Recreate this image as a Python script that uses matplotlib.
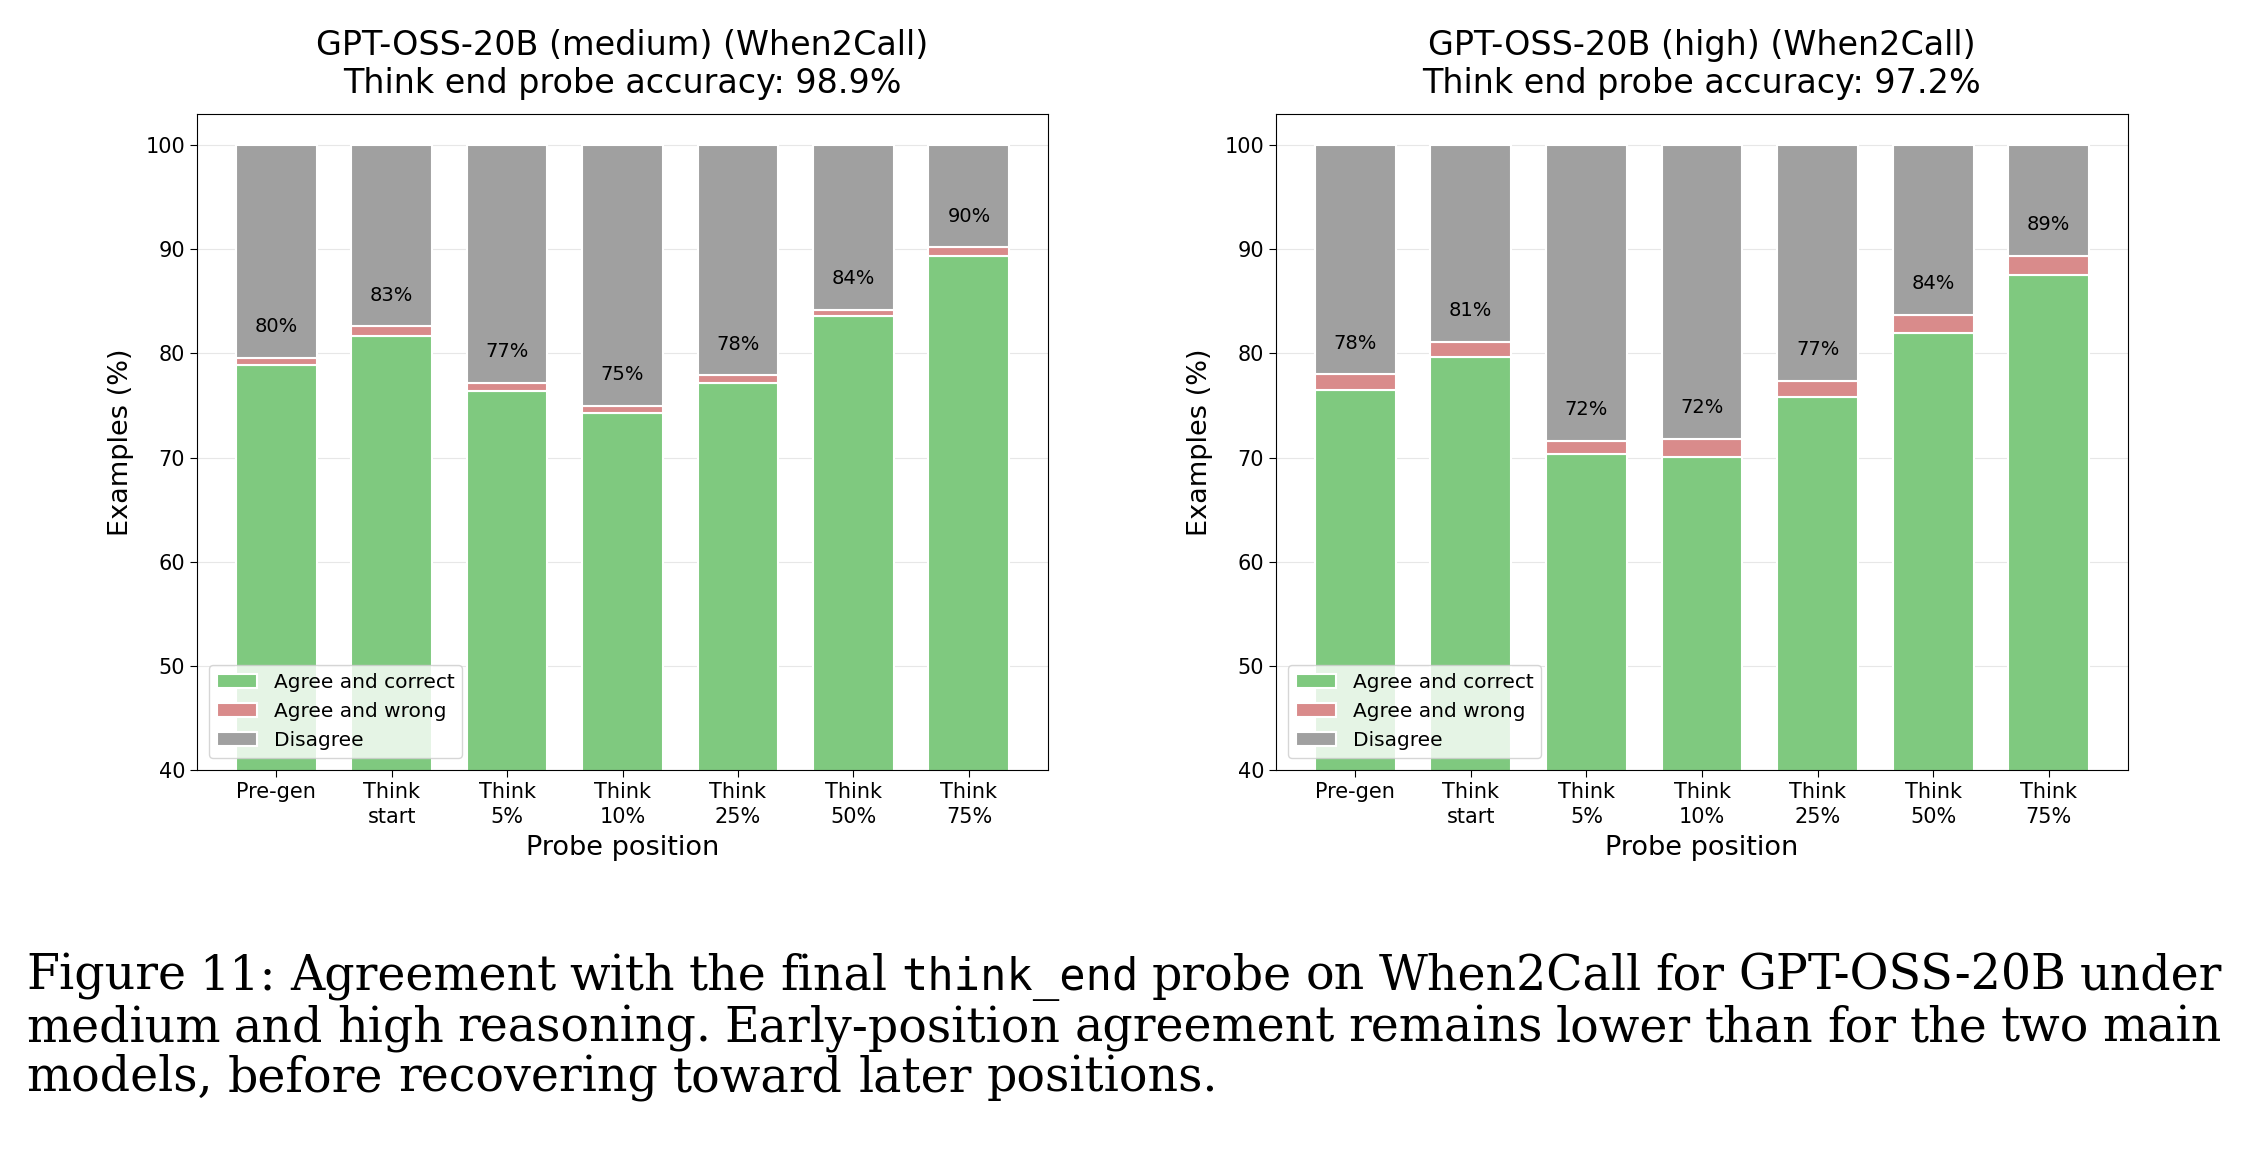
import matplotlib
matplotlib.use('Agg')
import matplotlib.pyplot as plt
import numpy as np

#probe positions along the x axis
positions=['Pre-gen','Think\nstart','Think\n5%','Think\n10%','Think\n25%','Think\n50%','Think\n75%']

#GPT-OSS-20B medium reasoning (% of examples)
mediumCorrect=[78.9,81.7,76.4,74.3,77.2,83.6,89.4]
mediumWrong=[0.7,0.9,0.8,0.7,0.7,0.6,0.8]

#GPT-OSS-20B high reasoning (% of examples)
highCorrect=[76.5,79.7,70.3,70.1,75.8,82.0,87.5]
highWrong=[1.5,1.4,1.3,1.7,1.6,1.7,1.9]

titles=['GPT-OSS-20B (medium) (When2Call)\nThink end probe accuracy: 98.9%',
        'GPT-OSS-20B (high) (When2Call)\nThink end probe accuracy: 97.2%']
seriesNames=['Agree and correct','Agree and wrong','Disagree']

captionLines=[
    'Figure 11: Agreement with the final think_end probe on When2Call for GPT-OSS-20B under',
    'medium and high reasoning. Early-position agreement remains lower than for the two main',
    'models, before recovering toward later positions.']
monoWords=['think_end']

greenC='#7fc97f'
redC='#d98b8b'
grayC='#a0a0a0'

W,H=2245,1152
fig=plt.figure(figsize=(W/100,H/100),dpi=100)
axL=fig.add_axes([197/W,1-770/H,851/W,656/H])
axR=fig.add_axes([1276/W,1-770/H,852/W,656/H])

#stacked bars for one model setting
def plotAgreement(ax,correct,wrong,title):
    x=np.arange(len(positions))
    correct=np.array(correct)
    wrong=np.array(wrong)
    agree=correct+wrong
    disagree=100-agree
    ax.bar(x,correct,0.7,color=greenC,edgecolor='white',linewidth=1.5,label=seriesNames[0])
    ax.bar(x,wrong,0.7,bottom=correct,color=redC,edgecolor='white',linewidth=1.5,label=seriesNames[1])
    ax.bar(x,disagree,0.7,bottom=agree,color=grayC,edgecolor='white',linewidth=1.5,label=seriesNames[2])
    for xi,tot in zip(x,agree):
        ax.text(xi,tot+3,'%d%%'%round(tot),ha='center',va='center',fontsize=14)
    ax.set_ylim(40,103)
    ax.set_xticks(x)
    ax.set_xticklabels(positions,fontsize=15,linespacing=1.3)
    ax.tick_params(axis='y',labelsize=15)
    ax.tick_params(length=5)
    ax.set_xlabel('Probe position',fontsize=19.5,labelpad=6)
    ax.set_ylabel('Examples (%)',fontsize=19.5,labelpad=8)
    ax.set_title(title,fontsize=24,pad=15)
    ax.set_axisbelow(True)
    ax.grid(axis='y',alpha=0.3)
    ax.legend(loc='lower left',fontsize=14.5,borderaxespad=0.6)

plotAgreement(axL,mediumCorrect,mediumWrong,titles[0])
plotAgreement(axR,highCorrect,highWrong,titles[1])

#caption, justified like the paper text
renderer=fig.canvas.get_renderer()
serifFam='DejaVu Serif'
xLeft,xRight=26,2222
lastLineRight=1220
baselines=[990,1041,1091]

#size the serif font so the short last line ends where it does in the paper
probe=fig.text(0,0,captionLines[-1],fontsize=30,family=serifFam)
capSize=30*(lastLineRight-xLeft)/probe.get_window_extent(renderer).width
probe.remove()

for li,line in enumerate(captionLines):
    words=line.split(' ')
    texts=[]
    widths=[]
    for w in words:
        fam='DejaVu Sans Mono' if w in monoWords else serifFam
        sz=capSize*0.92 if w in monoWords else capSize
        t=fig.text(0,1-baselines[li]/H,w,fontsize=sz,family=fam,va='baseline',ha='left')
        texts.append(t)
        widths.append(t.get_window_extent(renderer).width)
    spaceT=fig.text(0,0,'a a',fontsize=capSize,family=serifFam)
    noSpaceT=fig.text(0,0,'aa',fontsize=capSize,family=serifFam)
    normalGap=spaceT.get_window_extent(renderer).width-noSpaceT.get_window_extent(renderer).width
    spaceT.remove()
    noSpaceT.remove()
    if li<len(captionLines)-1:
        gap=(xRight-xLeft-sum(widths))/(len(words)-1)
    else:
        gap=normalGap
    xPos=xLeft
    for t,wd in zip(texts,widths):
        t.set_x(xPos/W)
        xPos+=wd+gap

fig.savefig('out.png',dpi=100)
